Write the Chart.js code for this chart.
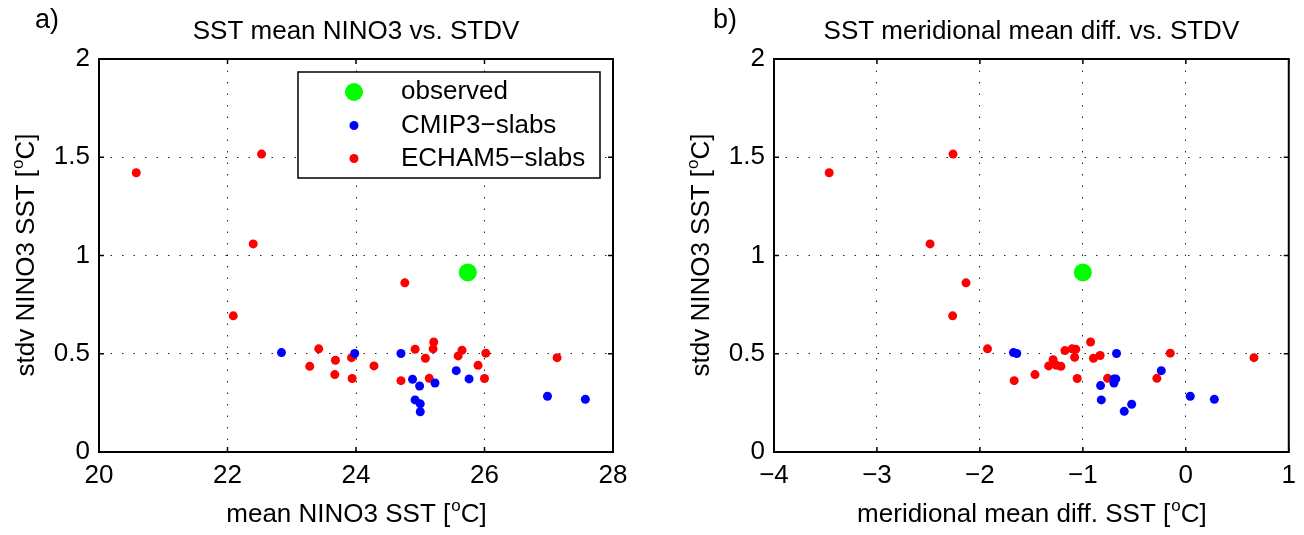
<!DOCTYPE html>
<html lang="en">
<head>
<meta charset="UTF-8">
<title>SST NINO3 scatter</title>
<script src="https://cdn.jsdelivr.net/npm/chart.js"></script>
<style>
  body { margin: 0; background: #fff; }
  .panel { position: absolute; top: 0; width: 652px; height: 535px; }
</style>
</head>
<body>
<div class="panel" style="left:0"><canvas id="chartA" width="652" height="535"></canvas></div>
<div class="panel" style="left:652px"><canvas id="chartB" width="652" height="535"></canvas></div>

<script>
// panel a) mean NINO3 SST vs stdv
const obsA_x = [25.74];
const obsA_y = [0.914];
const cmipA_x = [22.84, 23.98, 24.70, 24.88, 24.99, 25.23, 24.92, 25.00, 25.00, 25.56, 25.76, 26.98, 27.57];
const cmipA_y = [0.506, 0.501, 0.501, 0.370, 0.336, 0.351, 0.265, 0.245, 0.205, 0.414, 0.372, 0.284, 0.268];
const echamA_x = [20.58, 22.53, 22.40, 22.09, 24.76, 23.42, 23.28, 23.68, 23.67, 23.93, 23.94, 24.28,
                  24.70, 24.92, 25.08, 25.14, 25.21, 25.20, 25.59, 25.65, 25.90, 26.00, 26.02, 27.13];
const echamA_y = [1.421, 1.516, 1.059, 0.693, 0.861, 0.525, 0.436, 0.467, 0.394, 0.480, 0.374, 0.438,
                  0.363, 0.523, 0.477, 0.375, 0.560, 0.525, 0.489, 0.518, 0.441, 0.374, 0.503, 0.480];

// panel b) meridional mean diff vs stdv
const obsB_x = [-1.0];
const obsB_y = [0.914];
const cmipB_x = [-1.674, -1.642, -0.673, -0.828, -0.821, -0.698, -0.680, -0.698, -0.598, -0.526, -0.238, 0.043, 0.277];
const cmipB_y = [0.506, 0.501, 0.501, 0.338, 0.265, 0.372, 0.372, 0.351, 0.207, 0.243, 0.414, 0.284, 0.268];
const echamB_x = [-3.464, -2.261, -2.484, -2.135, -2.265, -1.926, -1.667, -1.465, -1.332, -1.289, -1.257, -1.213,
                  -1.174, -1.105, -1.069, -1.080, -1.055, -0.925, -0.897, -0.832, -0.760, -0.281, -0.151, 0.662];
const echamB_y = [1.421, 1.516, 1.059, 0.861, 0.693, 0.525, 0.363, 0.394, 0.438, 0.470, 0.441, 0.436,
                  0.516, 0.525, 0.523, 0.482, 0.374, 0.560, 0.477, 0.491, 0.375, 0.375, 0.503, 0.480];

const legendLabels = ['observed', 'CMIP3\u2212slabs', 'ECHAM5\u2212slabs'];
const yTicks = [0, 0.5, 1, 1.5, 2];
const xTicksA = [20, 22, 24, 26, 28];
const xTicksB = [-4, -3, -2, -1, 0, 1];

const FONT = '"Liberation Sans", Arial, Helvetica, sans-serif';
const FS = 26;
const colors = ['#00ff00', '#0000ff', '#ff0000'];
const radii = [9, 4.5, 4.5];

function pts(xs, ys) {
    return xs.map((x, i) => ({ x: x, y: ys[i] }));
}

function minusLabel(v) {
    return v < 0 ? '\u2212' + (-v) : String(v);
}

// text with a raised small "o" for degrees
function drawSupLabel(ctx, parts, x, y, angle) {
    ctx.save();
    ctx.translate(x, y);
    ctx.rotate(angle);
    ctx.fillStyle = '#000';
    ctx.textBaseline = 'middle';
    ctx.textAlign = 'left';
    ctx.font = FS + 'px ' + FONT;
    const w1 = ctx.measureText(parts[0]).width;
    const w3 = ctx.measureText(parts[2]).width;
    ctx.font = '17px ' + FONT;
    const w2 = ctx.measureText(parts[1]).width;
    let x0 = -(w1 + w2 + w3) / 2;
    ctx.font = FS + 'px ' + FONT;
    ctx.fillText(parts[0], x0, 0);
    ctx.font = '17px ' + FONT;
    ctx.fillText(parts[1], x0 + w1 + 1, -9);
    ctx.font = FS + 'px ' + FONT;
    ctx.fillText(parts[2], x0 + w1 + w2 + 1, 0);
    ctx.restore();
}

const decor = {
    id: 'decor',
    afterDatasetsDraw(chart, args, opts) {
        const ctx = chart.ctx;
        const a = chart.chartArea;
        const xs = chart.scales.x, ys = chart.scales.y;

        // box
        ctx.save();
        ctx.strokeStyle = '#000';
        ctx.lineWidth = 2;
        ctx.strokeRect(a.left, a.top, a.right - a.left, a.bottom - a.top);

        // inward ticks on all sides
        ctx.lineWidth = 1.5;
        ctx.beginPath();
        opts.xTicks.forEach(v => {
            const px = xs.getPixelForValue(v);
            ctx.moveTo(px, a.bottom); ctx.lineTo(px, a.bottom - 5);
            ctx.moveTo(px, a.top); ctx.lineTo(px, a.top + 5);
        });
        yTicks.forEach(v => {
            const py = ys.getPixelForValue(v);
            ctx.moveTo(a.left, py); ctx.lineTo(a.left + 5, py);
            ctx.moveTo(a.right, py); ctx.lineTo(a.right - 5, py);
        });
        ctx.stroke();

        // title and panel letter
        ctx.fillStyle = '#000';
        ctx.font = FS + 'px ' + FONT;
        ctx.textAlign = 'center';
        ctx.textBaseline = 'middle';
        ctx.fillText(opts.title, (a.left + a.right) / 2, 32);
        ctx.textAlign = 'left';
        ctx.font = '27px ' + FONT;
        ctx.fillText(opts.letter, opts.letterX, 21);
        ctx.restore();

        // axis titles
        drawSupLabel(ctx, opts.xTitle, (a.left + a.right) / 2, 515, 0);
        drawSupLabel(ctx, ['stdv NINO3 SST [', 'o', 'C]'], a.left - 72, (a.top + a.bottom) / 2, -Math.PI / 2);

        // legend inside panel a
        if (opts.legend) {
            const L = { x: 298, y: 72, w: 302, h: 106 };
            ctx.save();
            ctx.fillStyle = '#fff';
            ctx.fillRect(L.x, L.y, L.w, L.h);
            ctx.strokeStyle = '#000';
            ctx.lineWidth = 1.5;
            ctx.strokeRect(L.x, L.y, L.w, L.h);
            const rows = [92, 125.5, 158.5];
            ctx.font = FS + 'px ' + FONT;
            ctx.textBaseline = 'middle';
            ctx.textAlign = 'left';
            legendLabels.forEach((lab, i) => {
                ctx.fillStyle = colors[i];
                ctx.beginPath();
                ctx.arc(354, rows[i], radii[i], 0, Math.PI * 2);
                ctx.fill();
                ctx.fillStyle = '#000';
                ctx.fillText(lab, 401, rows[i]);
            });
            ctx.restore();
        }
    }
};

function makeChart(id, series, xMin, xMax, xStep, xTickVals, yWidth, padRight, decorOpts) {
    const datasets = series.map((s, i) => ({
        label: legendLabels[i],
        data: s,
        backgroundColor: colors[i],
        borderWidth: 0,
        pointRadius: radii[i],
        pointHoverRadius: radii[i]
    }));
    decorOpts.xTicks = xTickVals;
    return new Chart(document.getElementById(id), {
        type: 'scatter',
        data: { datasets: datasets },
        options: {
            responsive: false,
            animation: false,
            events: [],
            layout: { padding: { left: 0, right: padRight, top: 59, bottom: 0 } },
            scales: {
                x: {
                    min: xMin, max: xMax,
                    afterFit: s => { s.height = 83; },
                    afterBuildTicks: s => { s.ticks = xTickVals.map(v => ({ value: v })); },
                    ticks: {
                        stepSize: xStep,
                        padding: 8,
                        color: '#000',
                        font: { family: FONT, size: FS },
                        callback: v => minusLabel(v),
                        maxRotation: 0
                    },
                    grid: { color: '#222', lineWidth: 1, drawTicks: false },
                    border: { display: false, dash: [1.5, 10] }
                },
                y: {
                    min: 0, max: 2,
                    afterFit: s => { s.width = yWidth; },
                    afterBuildTicks: s => { s.ticks = yTicks.map(v => ({ value: v })); },
                    ticks: {
                        stepSize: 0.5,
                        padding: 9,
                        color: '#000',
                        font: { family: FONT, size: FS },
                        callback: v => String(v)
                    },
                    grid: { color: '#222', lineWidth: 1, drawTicks: false },
                    border: { display: false, dash: [1.5, 10] }
                }
            },
            plugins: {
                legend: { display: false },
                tooltip: { enabled: false },
                decor: decorOpts
            }
        },
        plugins: [decor]
    });
}

makeChart('chartA',
    [pts(obsA_x, obsA_y), pts(cmipA_x, cmipA_y), pts(echamA_x, echamA_y)],
    20, 28, 2, xTicksA, 99, 39,
    { title: 'SST mean NINO3 vs. STDV', letter: 'a)', letterX: 35,
      xTitle: ['mean NINO3 SST [', 'o', 'C]'], legend: true });

makeChart('chartB',
    [pts(obsB_x, obsB_y), pts(cmipB_x, cmipB_y), pts(echamB_x, echamB_y)],
    -4, 1, 1, xTicksB, 122, 14,
    { title: 'SST meridional mean diff. vs. STDV', letter: 'b)', letterX: 61,
      xTitle: ['meridional mean diff. SST [', 'o', 'C]'], legend: false });
</script>
</body>
</html>
